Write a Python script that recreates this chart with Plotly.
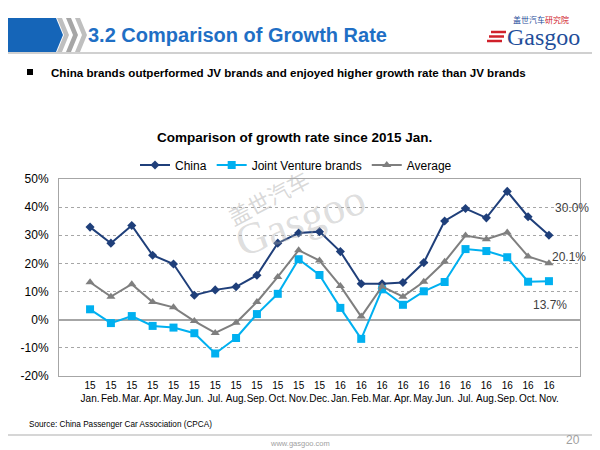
import plotly.graph_objects as go

months = ["Jan.", "Feb.", "Mar.", "Apr.", "May.", "Jun.", "Jul.", "Aug.", "Sep.", "Oct.", "Nov.", "Dec.",
          "Jan.", "Feb.", "Mar.", "Apr.", "May.", "Jun.", "Jul.", "Aug.", "Sep.", "Oct.", "Nov."]
years = ["15"] * 12 + ["16"] * 11
categories = [f"{y}<br>{m}" for y, m in zip(years, months)]

china = [32.9, 27.2, 33.5, 22.9, 19.8, 8.7, 10.6, 11.7, 15.8, 27.2, 30.8, 31.3,
         24.2, 12.8, 12.8, 13.2, 20.3, 35.1, 39.5, 36.2, 45.6, 36.6, 30.0]
jv = [3.7, -1.2, 1.3, -2.2, -2.8, -4.8, -12.0, -6.5, 2.0, 9.2, 21.5, 15.9,
      4.2, -6.8, 10.8, 5.3, 10.1, 13.4, 25.1, 24.4, 22.2, 13.5, 13.7]
average = [13.3, 8.2, 12.6, 6.3, 4.4, -0.5, -4.7, -1.1, 6.3, 15.2, 24.7, 21.0,
           12.0, 1.1, 11.8, 8.2, 13.5, 20.6, 29.9, 28.6, 31.0, 22.5, 20.1]

y_ticks = [50, 40, 30, 20, 10, 0, -10, -20]

FONT = "Liberation Sans, Arial, sans-serif"
# page has an 8px body margin, so the figure is drawn at (8, 8)
OFF = 8
W, H = 600 - OFF, 450 - OFF
L, R, T, B = 59 - OFF, 20, 179 - OFF, 74
PW, PH = W - L - R, H - T - B


def px(x):
    return (x - OFF - L) / PW


def py(y):
    return (H - B - (y - OFF)) / PH


fig = go.Figure()
fig.add_trace(go.Scatter(x=categories, y=china, name="China", mode="lines+markers",
                         line=dict(color="#1F3F7A", width=2),
                         marker=dict(symbol="diamond", size=7, color="#1F3F7A")))
fig.add_trace(go.Scatter(x=categories, y=jv, name="Joint Venture brands", mode="lines+markers",
                         line=dict(color="#00B0F0", width=2),
                         marker=dict(symbol="square", size=8, color="#00B0F0")))
fig.add_trace(go.Scatter(x=categories, y=average, name="Average", mode="lines+markers",
                         line=dict(color="#7F7F7F", width=2),
                         marker=dict(symbol="triangle-up", size=8, color="#7F7F7F")))

shapes = []
# header banner
shapes.append(dict(type="path", xref="paper", yref="paper",
                   path=f"M {px(0)},{py(18)} L {px(56)},{py(18)} L {px(63)},{py(35)} L {px(56)},{py(52)} L {px(0)},{py(52)} Z",
                   fillcolor="#1565B8", line=dict(width=0), layer="above"))
for off, col in [(0, "#BFBFBF"), (9, "#A6A6A6"), (18, "#BFBFBF")]:
    x0 = 57 + off
    shapes.append(dict(type="path", xref="paper", yref="paper",
                       path=f"M {px(x0)},{py(18)} L {px(x0+5)},{py(18)} L {px(x0+12)},{py(35)} L {px(x0+5)},{py(52)} L {px(x0)},{py(52)} L {px(x0+7)},{py(35)} Z",
                       fillcolor=col, line=dict(width=0)))
shapes.append(dict(type="line", xref="paper", yref="paper", x0=px(0), x1=px(600), y0=py(53), y1=py(53),
                   line=dict(color="#D0D0D0", width=2)))
# bullet
shapes.append(dict(type="rect", xref="paper", yref="paper", x0=px(27), x1=px(33), y0=py(69), y1=py(75),
                   fillcolor="#000000", line=dict(width=0)))
# footer line
shapes.append(dict(type="line", xref="paper", yref="paper", x0=px(0), x1=px(600), y0=py(435), y1=py(435),
                   line=dict(color="#C8C8C8", width=1.5)))
# logo stripes
for i, yy in enumerate([32, 36.5, 41]):
    shapes.append(dict(type="line", xref="paper", yref="paper", x0=px(491 - i * 2), x1=px(506 - i * 2),
                       y0=py(yy), y1=py(yy), line=dict(color="#D0202A", width=2.5)))

annotations = [
    dict(text="<b>3.2 Comparison of Growth Rate</b>", x=px(86), y=py(35), xref="paper", yref="paper",
         xanchor="left", yanchor="middle", showarrow=False, font=dict(family=FONT, size=20, color="#1F6FC5")),
    dict(text="<b>China brands outperformed JV brands and enjoyed higher growth rate than JV brands</b>",
         x=px(49), y=py(72), xref="paper", yref="paper", xanchor="left", yanchor="middle", showarrow=False,
         font=dict(family=FONT, size=11.6, color="#000000")),
    dict(text="<b>Comparison of growth rate since 2015 Jan.</b>", x=px(294), y=py(137), xref="paper", yref="paper",
         xanchor="center", yanchor="middle", showarrow=False, font=dict(family=FONT, size=13.5, color="#000000")),
    dict(text="Source: China Passenger Car Association (CPCA)", x=px(27), y=py(424), xref="paper", yref="paper",
         xanchor="left", yanchor="middle", showarrow=False, font=dict(family=FONT, size=8.2, color="#000000")),
    dict(text="www.gasgoo.com", x=px(300), y=py(443), xref="paper", yref="paper",
         xanchor="center", yanchor="middle", showarrow=False, font=dict(family=FONT, size=7.5, color="#A0A0A0")),
    dict(text="20", x=px(582), y=py(440), xref="paper", yref="paper",
         xanchor="right", yanchor="middle", showarrow=False, font=dict(family=FONT, size=12, color="#A0A0A0")),
    # logo
    dict(text="盖世汽车<span style='color:#D0202A'>研究院</span>", x=px(511), y=py(20), xref="paper", yref="paper",
         xanchor="left", yanchor="middle", showarrow=False,
         font=dict(family="Noto Sans CJK SC", size=8, color="#1F4E9A")),
    dict(text="Gasgoo", x=px(582), y=py(37), xref="paper", yref="paper",
         xanchor="right", yanchor="middle", showarrow=False,
         font=dict(family="Liberation Serif, serif", size=24, color="#1F4E9A")),
    # watermark
    dict(text="盖世汽车", x=px(268), y=py(197), xref="paper", yref="paper", textangle=-28,
         xanchor="center", yanchor="middle", showarrow=False,
         font=dict(family="Noto Sans CJK SC", size=22, color="rgba(170,170,170,0.45)")),
    dict(text="Gasgoo", x=px(300), y=py(220), xref="paper", yref="paper", textangle=-20,
         xanchor="center", yanchor="middle", showarrow=False,
         font=dict(family="Liberation Serif, serif", size=44, color="rgba(170,170,170,0.4)")),
    # data labels
    dict(text="30.0%", x=px(572), y=py(208), xref="paper", yref="paper", xanchor="center", yanchor="middle",
         showarrow=False, font=dict(family=FONT, size=12, color="#404040")),
    dict(text="20.1%", x=px(569), y=py(257), xref="paper", yref="paper", xanchor="center", yanchor="middle",
         showarrow=False, font=dict(family=FONT, size=12, color="#404040")),
    dict(text="13.7%", x=px(550), y=py(305), xref="paper", yref="paper", xanchor="center", yanchor="middle",
         showarrow=False, font=dict(family=FONT, size=12, color="#404040")),
]

fig.update_layout(
    width=W, height=H, margin=dict(l=L, r=R, t=T, b=B, autoexpand=False),
    paper_bgcolor="white", plot_bgcolor="white",
    font=dict(family=FONT, size=12, color="#000000"),
    showlegend=True,
    legend=dict(orientation="h", x=px(296), y=py(165), xanchor="center", yanchor="middle",
                font=dict(family=FONT, size=12, color="#000000"), itemwidth=30,
                bgcolor="rgba(0,0,0,0)", tracegroupgap=0),
    shapes=shapes, annotations=annotations,
    xaxis=dict(type="category", showgrid=False, showline=True, linecolor="#A6A6A6", mirror=True,
               ticks="", tickfont=dict(family=FONT, size=10, color="#000000"), tickangle=0),
    yaxis=dict(range=[-20, 50], tickvals=y_ticks, ticktext=[f"{v}%" for v in y_ticks],
               showgrid=True, gridcolor="#A6A6A6", griddash="dot", gridwidth=1,
               zeroline=True, zerolinecolor="#A6A6A6", zerolinewidth=1.5,
               showline=True, linecolor="#A6A6A6", mirror=True, ticks="",
               ticklabelstandoff=7,
               tickfont=dict(family=FONT, size=12, color="#000000")),
)

fig.write_html("out.html")
